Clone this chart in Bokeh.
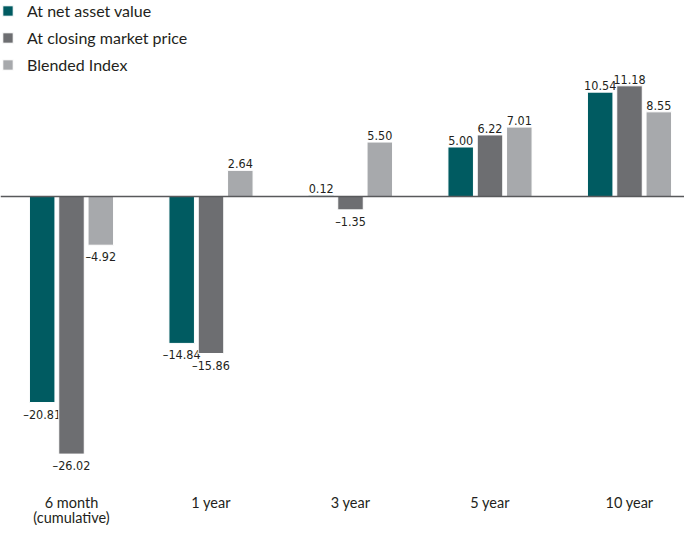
from bokeh.plotting import figure
from bokeh.models import ColumnDataSource, Legend, LegendItem, Span, Range1d
from bokeh.transform import dodge
from bokeh.core.properties import value
from bokeh.embed import file_html
from bokeh.resources import INLINE

# ---- data ----
categories = ["6 month", "1 year", "3 year", "5 year", "10 year"]
category_sub = ["(cumulative)", "", "", "", ""]
series_names = ["At net asset value", "At closing market price", "Blended Index"]
nav_values = [-20.81, -14.84, 0.12, 5.00, 10.54]
market_values = [-26.02, -15.86, -1.35, 6.22, 11.18]
index_values = [-4.92, 2.64, 5.50, 7.01, 8.55]
colors = ["#005b61", "#6d6e71", "#a7a9ac"]

W, H = 684, 525
px_per_unit_x = 139.5
px_per_unit_y = 9.9
first_center_px = 71
zero_px = 196

x0 = -first_center_px / px_per_unit_x
x1 = x0 + W / px_per_unit_x
y_top = zero_px / px_per_unit_y
y_bot = -(H - zero_px) / px_per_unit_y

p = figure(width=W, height=H, output_backend="svg", toolbar_location=None,
           x_range=Range1d(x0, x1), y_range=Range1d(y_bot, y_top),
           min_border=0, min_border_left=0, min_border_right=0,
           min_border_top=0, min_border_bottom=0)
p.xaxis.visible = False
p.yaxis.visible = False
p.grid.visible = False
p.outline_line_color = None
p.background_fill_color = "white"
p.border_fill_color = "white"

xs = list(range(len(categories)))
bar_w = 25.5 / px_per_unit_x
step = 29.3 / px_per_unit_x
offsets = [-step, 0.0, step]

def fmt(v):
    s = f"{abs(v):.2f}"
    return ("\u2013" + s) if v < 0 else s

label_font = value("DejaVu Sans Condensed")
renderers = []
for vals, col, off in zip([nav_values, market_values, index_values], colors, offsets):
    src = ColumnDataSource(dict(x=xs, top=vals))
    r = p.vbar(x=dodge("x", off, range=p.x_range), top="top", bottom=0, width=bar_w,
               source=src, fill_color=col, line_color="white", line_width=1)
    renderers.append(r)
    pos = [(x, v) for x, v in zip(xs, vals) if v >= 0]
    neg = [(x, v) for x, v in zip(xs, vals) if v < 0]
    if pos:
        ps = ColumnDataSource(dict(x=[a for a, _ in pos], y=[b for _, b in pos],
                                   t=[fmt(b) for _, b in pos]))
        p.text(x=dodge("x", off, range=p.x_range), y="y", text="t", source=ps,
               text_align="center", text_baseline="bottom", y_offset=-2,
               text_font=label_font, text_font_size="12.5px", text_color="#231f20")
    if neg:
        ns = ColumnDataSource(dict(x=[a for a, _ in neg], y=[b for _, b in neg],
                                   t=[fmt(b) for _, b in neg]))
        p.text(x=dodge("x", off, range=p.x_range), y="y", text="t", source=ns,
               text_align="center", text_baseline="top", y_offset=4,
               text_font=label_font, text_font_size="12.5px", text_color="#231f20")

# zero line
p.add_layout(Span(location=0, dimension="width", line_color="#58595b", line_width=1.5))

# category labels
cat_y1 = (zero_px - 502) / px_per_unit_y
cat_y2 = (zero_px - 517) / px_per_unit_y
cs = ColumnDataSource(dict(x=xs, y=[cat_y1] * len(xs), t=categories))
p.text(x="x", y="y", text="t", source=cs, text_align="center", text_baseline="middle",
       text_font=value("Lato"), text_font_size="14.5px", text_color="#231f20")
sub_x = [x for x, s in zip(xs, category_sub) if s]
sub_t = [s for s in category_sub if s]
ss = ColumnDataSource(dict(x=sub_x, y=[cat_y2] * len(sub_x), t=sub_t))
p.text(x="x", y="y", text="t", source=ss, text_align="center", text_baseline="middle",
       text_font=value("Lato"), text_font_size="14.5px", text_color="#231f20")

legend = Legend(items=[LegendItem(label=n, renderers=[r]) for n, r in zip(series_names, renderers)],
                location="top_left", margin=1, padding=0, spacing=8,
                glyph_width=13, glyph_height=13, label_height=13, label_standoff=13,
                label_text_font="Lato", label_text_font_size="16px",
                label_text_color="#231f20", border_line_alpha=0, background_fill_alpha=0)
p.add_layout(legend)

open("out.html", "w").write(file_html(p, INLINE))
